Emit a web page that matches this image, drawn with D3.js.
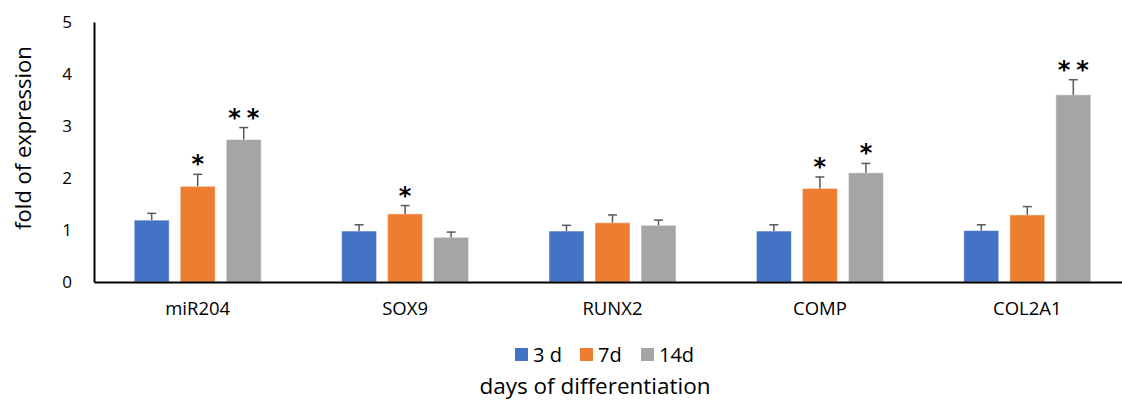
<!DOCTYPE html>
<html><head><meta charset="utf-8">
<script src="https://cdn.jsdelivr.net/npm/d3@7"></script>
<style>body{margin:0;background:#fff;} svg{display:block;font-family:"Open Sans","Liberation Sans",sans-serif;}</style>
</head><body>
<svg id="c" width="1122" height="403"></svg>
<script>
const categories = ["miR204","SOX9","RUNX2","COMP","COL2A1"];
const seriesNames = ["3 d","7d","14d"];
const seriesColors = ["#4472C4","#ED7D31","#A5A5A5"];
const values3d  = [1.19, 0.98, 0.98, 0.98, 0.99];
const values7d  = [1.84, 1.31, 1.14, 1.80, 1.29];
const values14d = [2.74, 0.86, 1.09, 2.10, 3.60];
const err3d  = [0.13, 0.12, 0.11, 0.12, 0.11];
const err7d  = [0.23, 0.16, 0.15, 0.22, 0.16];
const err14d = [0.23, 0.10, 0.10, 0.18, 0.29];
const sig3d  = ["","","","",""];
const sig7d  = ["*","*","","*",""];
const sig14d = ["**","","","*","**"];
const yTicks = [0,1,2,3,4,5];

(function(){
const svg = d3.select("#c");
const mLeft = 94, mRight = 1131, mTop = 22, mBottom = 282;
const x0 = d3.scaleBand().domain(categories).range([mLeft, mRight]).paddingInner(0).paddingOuter(0);
const x1 = d3.scaleBand().domain(seriesNames).range([0, 127]).paddingInner(0.24);
const y = d3.scaleLinear().domain([0,5]).range([mBottom, mTop]);
const groupOffset = (x0.bandwidth() - 127) / 2;

const series = [
  {name: seriesNames[0], vals: values3d, errs: err3d, sig: sig3d, color: seriesColors[0]},
  {name: seriesNames[1], vals: values7d, errs: err7d, sig: sig7d, color: seriesColors[1]},
  {name: seriesNames[2], vals: values14d, errs: err14d, sig: sig14d, color: seriesColors[2]}
];
const data = [];
series.forEach(s => categories.forEach((c,i) => data.push({cat:c, s:s.name, v:s.vals[i], e:s.errs[i], sig:s.sig[i], color:s.color})));
const bx = d => x0(d.cat) + groupOffset + x1(d.s);

svg.append("g").selectAll("rect").data(data).join("rect")
  .attr("x", bx).attr("width", x1.bandwidth())
  .attr("y", d => y(d.v)).attr("height", d => y(0) - y(d.v))
  .attr("fill", d => d.color).attr("stroke", "#fff").attr("stroke-opacity",0.5).attr("stroke-width", 1);

const eg = svg.append("g").attr("stroke", "#595959").attr("stroke-width", 1.5);
data.forEach(d => {
  const cx = bx(d) + x1.bandwidth()/2;
  eg.append("line").attr("x1", cx).attr("x2", cx).attr("y1", y(d.v)).attr("y2", y(d.v + d.e));
  eg.append("line").attr("x1", cx - 4.5).attr("x2", cx + 4.5).attr("y1", y(d.v + d.e)).attr("y2", y(d.v + d.e));
});

svg.append("g").selectAll("text").data(data.filter(d => d.sig)).join("text")
  .attr("x", d => bx(d) + x1.bandwidth()/2)
  .attr("dx", d => d.sig.length > 1 ? 3 : 0)
  .attr("y", d => y(d.v + d.e) - 2)
  .attr("text-anchor", "middle")
  .attr("letter-spacing", d => d.sig.length > 1 ? 6 : 0)
  .attr("font-size", 24).attr("font-weight", "bold").attr("font-family", "'DejaVu Sans', sans-serif").attr("fill", "#000")
  .text(d => d.sig);

const yAxis = d3.axisLeft(y).tickValues(yTicks).tickSize(0).tickPadding(22).tickFormat(d3.format("d"));
const gy = svg.append("g").attr("transform", `translate(${mLeft},0)`).call(yAxis);
gy.select(".domain").attr("stroke", "#000").attr("stroke-width", 2);
gy.selectAll("text").attr("font-size", 17).attr("fill", "#000").attr("font-family", "'Open Sans', sans-serif");

const xAxis = d3.axisBottom(x0).tickSize(0).tickPadding(20);
const gx = svg.append("g").attr("transform", `translate(0,${mBottom})`).call(xAxis);
gx.select(".domain").attr("stroke", "#000").attr("stroke-width", 2);
gx.selectAll("text").attr("font-size", 18.5).attr("fill", "#000").attr("font-family", "'Open Sans', sans-serif");

svg.append("text").attr("transform", "translate(31,138) rotate(-90)")
  .attr("text-anchor", "middle").attr("font-size", 22).attr("fill", "#000").text("fold of expression");

const legX = [515, 580, 641];
const lg = svg.append("g");
seriesNames.forEach((n, i) => {
  lg.append("rect").attr("x", legX[i]).attr("y", 348).attr("width", 13).attr("height", 13).attr("fill", seriesColors[i]);
  lg.append("text").attr("x", legX[i] + 18).attr("y", 362).attr("font-size", 20).attr("fill", "#000").text(n);
});

svg.append("text").attr("x", 595).attr("y", 394).attr("text-anchor", "middle")
  .attr("font-size", 22.5).attr("fill", "#000").text("days of differentiation");
})();
</script>
</body></html>
